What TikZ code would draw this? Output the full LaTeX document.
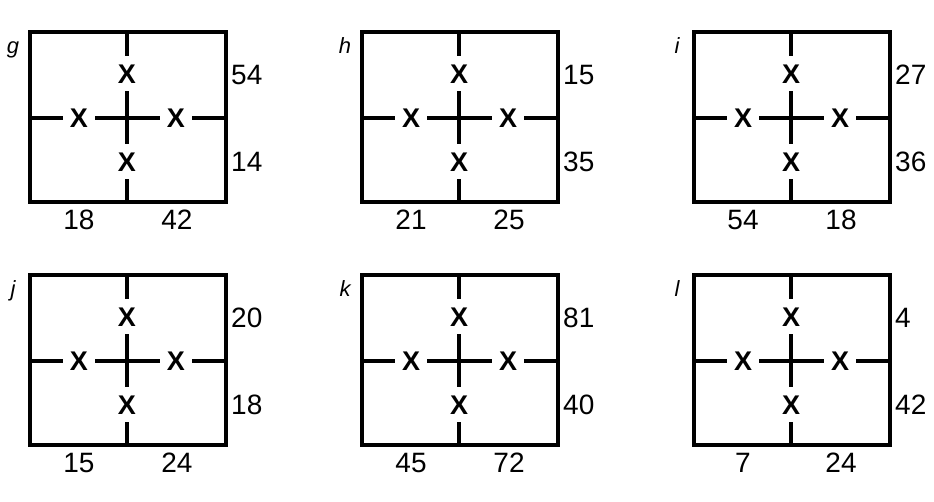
\documentclass[tikz,border=0pt]{standalone}
\usepackage{fontspec}
\setmainfont{Liberation Sans}[BoldFont={Liberation Sans Bold},ItalicFont={Liberation Sans Italic}]
\tikzset{
  frame/.style={line width=4pt},
  xmark/.style={fill=white, inner sep=0pt, minimum width=32pt, minimum height=35pt,
    font=\fontsize{27}{27}\selectfont\bfseries},
  side/.style={anchor=west, inner sep=0pt, font=\fontsize{28}{28}\selectfont},
  foot/.style={inner sep=0pt, font=\fontsize{28}{28}\selectfont},
  tag/.style={anchor=base, inner sep=0pt, font=\fontsize{22}{22}\selectfont\itshape}
}
\begin{document}
\begin{tikzpicture}[x=1pt,y=1pt]
                \useasboundingbox (0,0) rectangle (934,502);
                \foreach \nm/\px/\py/\ra/\rb/\ba/\bb in {g/30/300/54/14/18/42, h/362/300/15/35/21/25,
                    i/694/300/27/36/54/18, j/30/57/20/18/15/24, k/362/57/81/40/45/72, l/694/57/4/42/7/24}{
                  \begin{scope}[shift={(\px,\py)}]
                    \coordinate (\nm-sw) at (0,0);
                    \coordinate (\nm-ne) at (196,170);
                    \draw[frame] (\nm-sw) rectangle (\nm-ne);
                    \draw[frame] (97,0) -- (97,170) (0,84) -- (196,84);
                    \node[xmark] (\nm-up) at (97,128) {X};
                    \node[xmark] (\nm-down) at (97,40) {X};
                    \node[xmark] (\nm-left) at (49,84) {X};
                    \node[xmark] (\nm-right) at (146,84) {X};
                    \node[side] (\nm-ra) at (201,127) {\ra};
                    \node[side] (\nm-rb) at (201,40) {\rb};
                    \node[foot] (\nm-ba) at (49,-18) {\ba};
                    \node[foot] (\nm-bb) at (147,-18) {\bb};
                    \node[tag] (\nm-tag) at (-17,148) {\nm};
                  \end{scope}
                }
            \end{tikzpicture}
\end{document}
